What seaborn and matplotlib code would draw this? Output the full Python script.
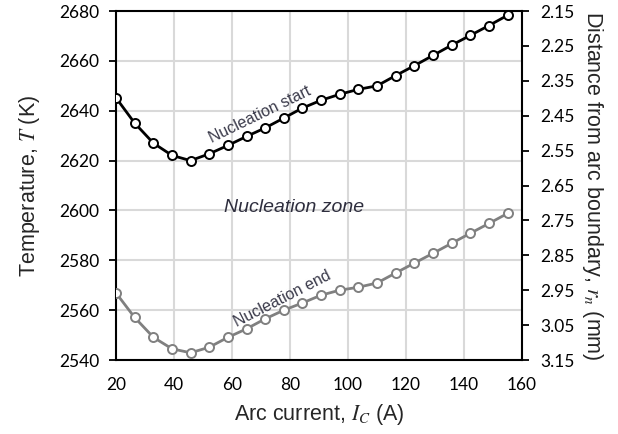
import numpy as np
import pandas as pd
import matplotlib
matplotlib.use("Agg")
import matplotlib.pyplot as plt
import seaborn as sns

# arc current (A)
arc_current = [20.0, 26.4, 32.9, 39.3, 45.7, 52.1, 58.6, 65.0, 71.4, 77.9, 84.3,
               90.7, 97.1, 103.6, 110.0, 116.4, 122.9, 129.3, 135.7, 142.1, 148.6, 155.0]
# temperature at nucleation start (K)
temp_start = [2645.2, 2635.1, 2627.0, 2622.1, 2620.0, 2622.7, 2626.1, 2629.7, 2633.1, 2637.1, 2641.1,
              2644.2, 2646.6, 2648.6, 2650.0, 2654.1, 2658.1, 2662.2, 2666.3, 2670.2, 2674.2, 2678.3]
# temperature at nucleation end (K)
temp_end = [2566.9, 2557.1, 2549.1, 2544.5, 2542.9, 2545.1, 2549.1, 2552.5, 2556.5, 2560.0, 2562.9,
            2566.0, 2568.0, 2569.2, 2570.9, 2574.9, 2578.9, 2582.8, 2586.8, 2590.8, 2594.8, 2598.8]

x_ticks = [20, 40, 60, 80, 100, 120, 140, 160]
y_ticks = [2540, 2560, 2580, 2600, 2620, 2640, 2660, 2680]
r_ticks = [2.15, 2.25, 2.35, 2.45, 2.55, 2.65, 2.75, 2.85, 2.95, 3.05, 3.15]

sns.set_style("white")
plt.rcParams['font.family'] = ['Liberation Sans', 'DejaVu Sans']
plt.rcParams['mathtext.fontset'] = 'stix'

df = pd.DataFrame({'current': arc_current, 'start': temp_start, 'end': temp_end})

fig = plt.figure(figsize=(6.18, 4.34), dpi=100)
ax = fig.add_axes([0.1877, 0.1705, 0.657, 0.804])

sns.lineplot(data=df, x='current', y='start', ax=ax, color='black', linewidth=2,
             marker='o', markersize=6.5, markerfacecolor='white',
             markeredgecolor='black', markeredgewidth=1.4, zorder=3)
sns.lineplot(data=df, x='current', y='end', ax=ax, color='#808080', linewidth=2,
             marker='o', markersize=6.5, markerfacecolor='white',
             markeredgecolor='#808080', markeredgewidth=1.4, zorder=3)

tick_font = {'family': ['Lato', 'DejaVu Sans'], 'size': 12.5}
txt = '#262626'

ax.set_xlim(20, 160)
ax.set_ylim(2540, 2680)
ax.set_xticks(x_ticks)
ax.set_xticklabels([str(v) for v in x_ticks], fontdict=tick_font, color=txt)
ax.set_yticks(y_ticks)
ax.set_yticklabels([str(v) for v in y_ticks], fontdict=tick_font, color=txt)
ax.grid(True, color='#d9d9d9', linewidth=1.5)
ax.set_axisbelow(True)
for s in ax.spines.values():
    s.set_color('black')
    s.set_linewidth(1.5)
ax.tick_params(axis='both', direction='out', length=5, width=1.3, colors='black')
ax.tick_params(axis='x', pad=7)
ax.tick_params(axis='y', pad=7)
ax.set_xlabel(r'Arc current, $I_C$ (A)', fontsize=15.5, color=txt, labelpad=7)
ax.set_ylabel(r'Temperature, $T$ (K)', fontsize=15.5, color=txt, labelpad=12)

ax2 = ax.twinx()
ax2.set_ylim(3.15, 2.15)
ax2.set_yticks(r_ticks)
ax2.set_yticklabels([f'{v:.2f}' for v in r_ticks], fontdict=tick_font, color=txt)
ax2.tick_params(axis='y', direction='out', length=5, width=1.3, colors='black', pad=8)
for s in ax2.spines.values():
    s.set_visible(False)
ax2.set_ylabel(r'Distance from arc boundary, $r_n$ (mm)', fontsize=15.5, color=txt,
               rotation=-90, labelpad=22)

ax.text(69.5, 2638.5, 'Nucleation start', rotation=26, fontsize=11.5, color='#3a3a4a',
        ha='center', va='center')
ax.text(81.5, 2601, 'Nucleation zone', fontsize=14, style='italic', color='#2e2e3e',
        ha='center', va='center')
ax.text(77.5, 2564.5, 'Nucleation end', rotation=27, fontsize=11.5, color='#3a3a4a',
        ha='center', va='center')

fig.savefig('out.png', dpi=100)
